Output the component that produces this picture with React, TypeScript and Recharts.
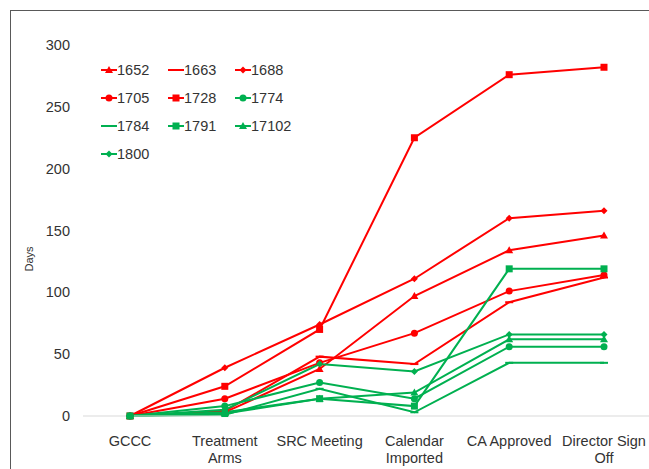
import { LineChart, Line, XAxis, YAxis } from 'recharts';

const categories = ['GCCC', 'Treatment Arms', 'SRC Meeting', 'Calendar Imported', 'CA Approved', 'Director Sign Off'];
const tickLabelLines: Record<string, string[]> = {
  'GCCC': ['GCCC'],
  'Treatment Arms': ['Treatment', 'Arms'],
  'SRC Meeting': ['SRC Meeting'],
  'Calendar Imported': ['Calendar', 'Imported'],
  'CA Approved': ['CA Approved'],
  'Director Sign Off': ['Director Sign', 'Off'],
};
const yTicks = [0, 50, 100, 150, 200, 250, 300];

const s1652 = [0, 3, 38, 97, 134, 146];
const s1663 = [0, 4, 48, 42, 92, 112];
const s1688 = [0, 39, 74, 111, 160, 166];
const s1705 = [0, 14, 43, 67, 101, 114];
const s1728 = [0, 24, 70, 225, 276, 282];
const s1774 = [0, 8, 27, 14, 56, 56];
const s1784 = [0, 1, 22, 3, 43, 43];
const s1791 = [0, 2, 14, 8, 119, 119];
const s17102 = [0, 3, 14, 19, 62, 62];
const s1800 = [0, 5, 42, 36, 66, 66];

const RED = '#FF0000';
const GREEN = '#00B050';
const TEXT = '#333333';

type Shape = 'triangle' | 'dash' | 'diamond' | 'circle' | 'square';

const series: { name: string; values: number[]; color: string; shape: Shape }[] = [
  { name: '1652', values: s1652, color: RED, shape: 'triangle' },
  { name: '1663', values: s1663, color: RED, shape: 'dash' },
  { name: '1688', values: s1688, color: RED, shape: 'diamond' },
  { name: '1705', values: s1705, color: RED, shape: 'circle' },
  { name: '1728', values: s1728, color: RED, shape: 'square' },
  { name: '1774', values: s1774, color: GREEN, shape: 'circle' },
  { name: '1784', values: s1784, color: GREEN, shape: 'dash' },
  { name: '1791', values: s1791, color: GREEN, shape: 'square' },
  { name: '17102', values: s17102, color: GREEN, shape: 'triangle' },
  { name: '1800', values: s1800, color: GREEN, shape: 'diamond' },
];

const data = categories.map((c, i) => {
  const row: Record<string, string | number> = { stage: c };
  series.forEach((s) => {
    row[s.name] = s.values[i];
  });
  return row;
});

const FONT = 'Arial, "Liberation Sans", sans-serif';

function Marker({ cx, cy, shape, color }: { cx: number; cy: number; shape: Shape; color: string }) {
  switch (shape) {
    case 'triangle':
      return <path d={`M${cx},${cy - 4} L${cx + 4},${cy + 3} L${cx - 4},${cy + 3} Z`} fill={color} />;
    case 'dash':
      return <rect x={cx - 4} y={cy - 1} width={8} height={2} fill={color} />;
    case 'diamond':
      return <path d={`M${cx},${cy - 3.5} L${cx + 3.5},${cy} L${cx},${cy + 3.5} L${cx - 3.5},${cy} Z`} fill={color} />;
    case 'circle':
      return <circle cx={cx} cy={cy} r={3.5} fill={color} />;
    case 'square':
      return <rect x={cx - 3.5} y={cy - 3.5} width={7} height={7} fill={color} />;
  }
}

const renderTick = (props: any) => {
  const { x, y, payload } = props;
  const lines = tickLabelLines[payload.value] || [payload.value];
  return (
    <g>
      {lines.map((l, i) => (
        <text
          key={i}
          x={x}
          y={y + 22 + i * 17}
          textAnchor="middle"
          fontSize={14.5}
          fontFamily={FONT}
          fill={TEXT}
        >
          {l}
        </text>
      ))}
    </g>
  );
};

function ChartLegend() {
  return (
    <div style={{ position: 'absolute', left: 101, top: 61, fontFamily: FONT, fontSize: 14.5, color: TEXT }}>
      {series.map((s, i) => {
        const col = i % 3;
        const row = Math.floor(i / 3);
        return (
          <div
            key={s.name}
            style={{ position: 'absolute', left: col * 67, top: row * 28, display: 'flex', alignItems: 'center', whiteSpace: 'nowrap' }}
          >
            <svg width={16} height={18}>
              <line x1={0} y1={9} x2={16} y2={9} stroke={s.color} strokeWidth={2} />
              <Marker cx={8} cy={9} shape={s.shape} color={s.color} />
            </svg>
            <span style={{ lineHeight: '18px' }}>{s.name}</span>
          </div>
        );
      })}
    </div>
  );
}

export default function App() {
  return (
    <div style={{ position: 'fixed', left: 0, top: 0, width: 649, height: 469, overflow: 'hidden', background: '#fff' }}>
      <div style={{ position: 'absolute', left: 10, top: 10, width: 700, height: 500, border: '1px solid #595959' }} />
      <div style={{ position: 'absolute', left: 0, top: 0 }}>
        <LineChart width={651} height={469} data={data} margin={{ top: 45, right: 0, bottom: 0, left: 0 }}>
          <XAxis
            dataKey="stage"
            height={53}
            axisLine={{ stroke: '#D9D9D9' }}
            tickLine={false}
            tick={renderTick}
            interval={0}
            padding={{ left: 47, right: 47 }}
          />
          <YAxis
            domain={[0, 300]}
            ticks={yTicks}
            width={83}
            axisLine={false}
            tickLine={false}
            tickMargin={7}
            tick={{ fontSize: 14.5, fontFamily: FONT, fill: TEXT }}
            label={{
              content: () => (
                <text x={33} y={259} transform="rotate(-90 33 259)" textAnchor="middle" fontSize={11} fontFamily={FONT} fill={TEXT}>
                  Days
                </text>
              ),
            }}
          />
          {series.map((s) => (
            <Line
              key={s.name}
              type="linear"
              dataKey={s.name}
              stroke={s.color}
              strokeWidth={2}
              isAnimationActive={false}
              dot={(p: any) => <Marker key={`${s.name}-${p.index}`} cx={p.cx} cy={p.cy} shape={s.shape} color={s.color} />}
              activeDot={false}
            />
          ))}
        </LineChart>
      </div>
      <ChartLegend />
    </div>
  );
}
